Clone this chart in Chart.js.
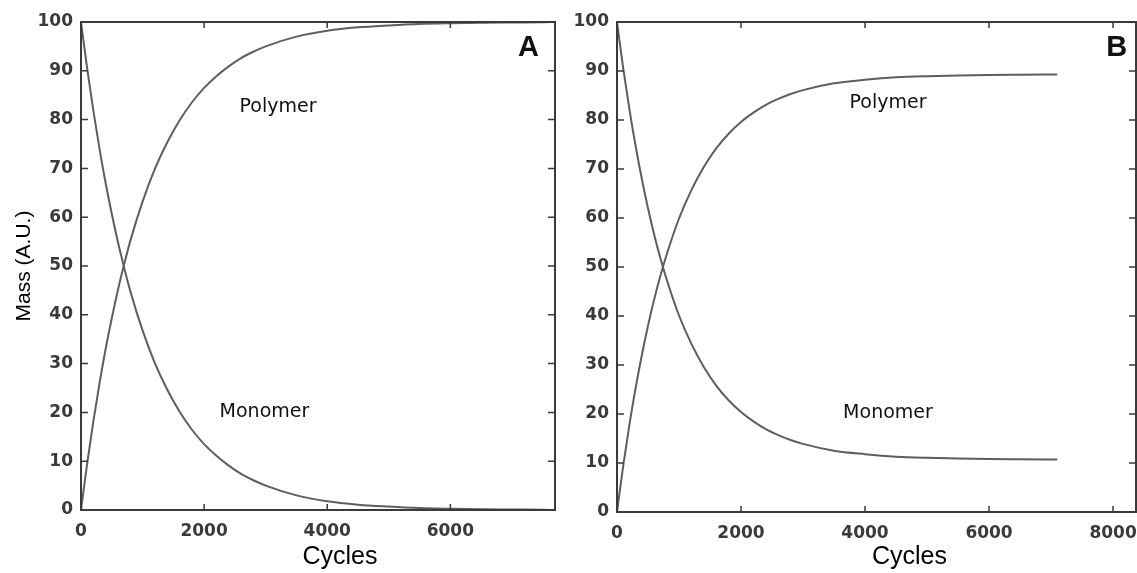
<!DOCTYPE html>
<html>
<head>
<meta charset="utf-8">
<script src="https://cdn.jsdelivr.net/npm/chart.js@4.4.1/dist/chart.umd.min.js"></script>
<style>
  html, body { margin: 0; padding: 0; background: #fff; }
  #wrap { position: relative; width: 1137px; height: 573px; overflow: hidden; }
  canvas { position: absolute; top: 0; }
  #chartA { left: 0; }
  #chartB { left: 566px; }
</style>
</head>
<body>
<div id="wrap">
  <canvas id="chartA" width="566" height="573"></canvas>
  <canvas id="chartB" width="571" height="573"></canvas>
</div>
<script>
// Panel A: full conversion
const cyclesA = [0, 100, 200, 300, 400, 500, 600, 700, 800, 1000, 1200, 1400, 1600, 1800, 2000,
  2200, 2400, 2600, 2800, 3000, 3500, 4000, 4500, 5000, 5500, 6000, 6500, 7000, 7500, 7700];
const polymerA = [0, 9.5, 18.1, 25.9, 33.0, 39.3, 45.1, 50.3, 55.1, 63.2, 69.9, 75.3, 79.8, 83.5, 86.5,
  88.9, 90.9, 92.6, 93.9, 95.0, 97.0, 98.2, 98.9, 99.3, 99.6, 99.75, 99.85, 99.9, 99.95, 100];
const monomerA = [100, 90.5, 81.9, 74.1, 67.0, 60.7, 54.9, 49.7, 44.9, 36.8, 30.1, 24.7, 20.2, 16.5, 13.5,
  11.1, 9.1, 7.4, 6.1, 5.0, 3.0, 1.8, 1.1, 0.7, 0.4, 0.25, 0.15, 0.1, 0.05, 0];

// Panel B: equilibrium near 89 / 11
const cyclesB = [0, 100, 200, 300, 400, 500, 600, 700, 800, 1000, 1200, 1400, 1600, 1800, 2000,
  2200, 2400, 2600, 2800, 3000, 3500, 4000, 4500, 5000, 5500, 6000, 6500, 7100];
const polymerB = [0, 9.4, 17.8, 25.3, 32.0, 38.0, 43.4, 48.2, 52.5, 59.9, 65.7, 70.4, 74.2, 77.2, 79.6,
  81.5, 83.1, 84.3, 85.3, 86.1, 87.5, 88.2, 88.7, 88.95, 89.1, 89.2, 89.25, 89.3];
const monomerB = [100, 90.6, 82.2, 74.7, 68.0, 62.0, 56.6, 51.8, 47.5, 40.1, 34.3, 29.6, 25.8, 22.8, 20.4,
  18.5, 16.9, 15.7, 14.7, 13.9, 12.5, 11.8, 11.3, 11.05, 10.9, 10.8, 10.75, 10.7];

const xTicksA = [0, 2000, 4000, 6000];
const xTicksB = [0, 2000, 4000, 6000, 8000];
const yTicks = [0, 10, 20, 30, 40, 50, 60, 70, 80, 90, 100];

const tickFont = { family: "'DejaVu Sans'", size: 17, weight: "bold" };
const tickColor = "#3a3a3a";
const lineColor = "#5e5e5e";
const frameColor = "#3a3a3a";

function toPoints(xs, ys) {
  return xs.map((x, i) => ({ x: x, y: ys[i] }));
}

// frame, inward ticks on all four sides, and text labels
const framePlugin = {
  id: "frame",
  afterDraw(chart, args, opts) {
    const ctx = chart.ctx;
    const a = chart.chartArea;
    const xs = chart.scales.x;
    const ys = chart.scales.y;
    ctx.save();
    ctx.strokeStyle = frameColor;
    ctx.lineWidth = 2;
    ctx.strokeRect(a.left, a.top, a.right - a.left, a.bottom - a.top);
    ctx.lineWidth = 1.5;
    ctx.beginPath();
    opts.xTicks.forEach(v => {
      const px = xs.getPixelForValue(v);
      ctx.moveTo(px, a.bottom); ctx.lineTo(px, a.bottom - 6);
      ctx.moveTo(px, a.top); ctx.lineTo(px, a.top + 6);
    });
    yTicks.forEach(v => {
      const py = ys.getPixelForValue(v);
      ctx.moveTo(a.left, py); ctx.lineTo(a.left + 7, py);
      ctx.moveTo(a.right, py); ctx.lineTo(a.right - 7, py);
    });
    ctx.stroke();

    ctx.fillStyle = "#111";
    ctx.textAlign = "center";
    ctx.textBaseline = "middle";
    ctx.font = "19px 'DejaVu Sans'";
    opts.notes.forEach(n => {
      ctx.fillText(n.text, xs.getPixelForValue(n.x), ys.getPixelForValue(n.y));
    });
    ctx.font = "bold 29px 'Liberation Sans'";
    ctx.fillText(opts.panel.text, xs.getPixelForValue(opts.panel.x), ys.getPixelForValue(opts.panel.y));

    ctx.font = "25px 'Liberation Sans'";
    ctx.fillStyle = "#000";
    ctx.fillText("Cycles", (a.left + a.right) / 2 + opts.titleShift, 557);
    if (opts.yTitle) {
      ctx.translate(24, (a.top + a.bottom) / 2);
      ctx.rotate(-Math.PI / 2);
      ctx.font = "21px 'Liberation Sans'";
      ctx.fillText(opts.yTitle, 0, 0);
    }
    ctx.restore();
  }
};

function makeChart(canvas, cfg) {
  return new Chart(canvas, {
    type: "line",
    data: {
      datasets: [
        { label: "Polymer", data: toPoints(cfg.cycles, cfg.polymer) },
        { label: "Monomer", data: toPoints(cfg.cycles, cfg.monomer) }
      ]
    },
    options: {
      responsive: false,
      animation: false,
      devicePixelRatio: 1,
      layout: { padding: { top: 22, right: cfg.padRight, left: 0, bottom: 0 } },
      elements: {
        point: { radius: 0 },
        line: { borderColor: lineColor, borderWidth: 2, cubicInterpolationMode: "monotone" }
      },
      plugins: {
        legend: { display: false },
        tooltip: { enabled: false },
        frame: {
          xTicks: cfg.xTicks,
          notes: cfg.notes,
          panel: cfg.panel,
          titleShift: cfg.titleShift,
          yTitle: cfg.yTitle
        }
      },
      scales: {
        x: {
          type: "linear",
          min: 0,
          max: cfg.xMax,
          afterFit: s => { s.height = cfg.xHeight; s.paddingLeft = 0; s.paddingRight = 0; },
          afterBuildTicks: s => { s.ticks = cfg.xTicks.map(v => ({ value: v })); },
          grid: { display: false, drawTicks: false },
          border: { display: false },
          ticks: { font: tickFont, color: tickColor, padding: 11, maxRotation: 0, callback: v => String(v) }
        },
        y: {
          min: 0,
          max: 100,
          afterFit: s => { s.width = cfg.yWidth; s.paddingTop = 0; s.paddingBottom = 0; },
          afterBuildTicks: s => { s.ticks = yTicks.map(v => ({ value: v })); },
          grid: { display: false, drawTicks: false },
          border: { display: false },
          ticks: { font: tickFont, color: tickColor, padding: 8 }
        }
      }
    },
    plugins: [framePlugin]
  });
}

makeChart(document.getElementById("chartA"), {
  cycles: cyclesA, polymer: polymerA, monomer: monomerA,
  xMax: 7700, xTicks: xTicksA, padRight: 11, yWidth: 81, xHeight: 63,
  titleShift: 22, yTitle: "Mass (A.U.)",
  notes: [{ text: "Polymer", x: 3200, y: 82.6 }, { text: "Monomer", x: 2980, y: 20 }],
  panel: { text: "A", x: 7270, y: 94.7 }
});

makeChart(document.getElementById("chartB"), {
  cycles: cyclesB, polymer: polymerB, monomer: monomerB,
  xMax: 8370, xTicks: xTicksB, padRight: 1, yWidth: 51, xHeight: 61,
  titleShift: 33, yTitle: null,
  notes: [{ text: "Polymer", x: 4370, y: 83.5 }, { text: "Monomer", x: 4370, y: 20.2 }],
  panel: { text: "B", x: 8060, y: 94.7 }
});
</script>
</body>
</html>
